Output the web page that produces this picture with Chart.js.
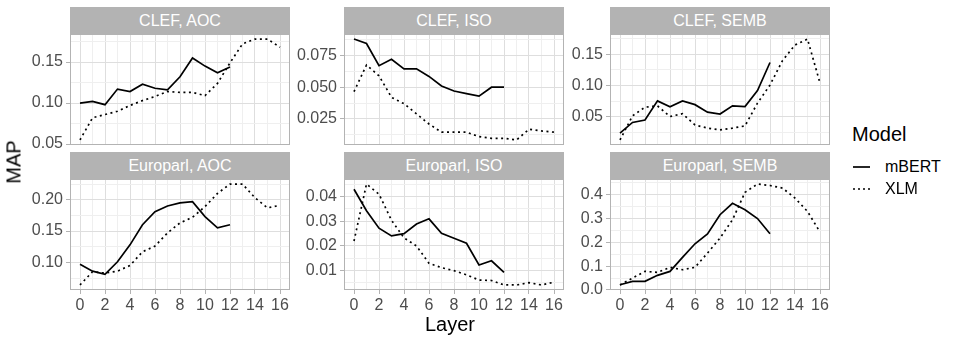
<!DOCTYPE html>
<html>
<head>
<meta charset="utf-8">
<script src="https://cdn.jsdelivr.net/npm/chart.js@4.4.1/dist/chart.umd.min.js"></script>
<style>
body { margin: 0; background: #fff; font-family: "Liberation Sans", Arial, sans-serif; }
#wrap { position: relative; width: 958px; height: 343px; overflow: hidden; }
.strip { position: absolute; background: #B3B3B3; color: #fff; font-size: 16px; text-align: center; }
canvas { position: absolute; }
.txt { position: absolute; white-space: nowrap; color: #000; }
</style>
</head>
<body>
<div id="wrap"></div>
<script>
// layers
const layersBert = [0,1,2,3,4,5,6,7,8,9,10,11,12];
const layersXlm = [0,1,2,3,4,5,6,7,8,9,10,11,12,13,14,15,16];
const xTickLabels = ['0','2','4','6','8','10','12','14','16'];

// CLEF, AOC
const clefAocBert = [0.100,0.102,0.098,0.117,0.114,0.123,0.118,0.116,0.132,0.155,0.145,0.137,0.144];
const clefAocXlm = [0.055,0.082,0.086,0.090,0.097,0.103,0.108,0.114,0.113,0.113,0.109,0.124,0.149,0.172,0.178,0.178,0.168];
const clefAocTicks = ['0.05','0.10','0.15'];
// CLEF, ISO
const clefIsoBert = [0.088,0.0845,0.067,0.072,0.0645,0.0645,0.0585,0.051,0.047,0.045,0.043,0.050,0.050];
const clefIsoXlm = [0.0465,0.0675,0.059,0.042,0.037,0.029,0.021,0.0145,0.0145,0.0145,0.011,0.0097,0.0097,0.0084,0.0168,0.0155,0.0145];
const clefIsoTicks = ['0.025','0.050','0.075'];
// CLEF, SEMB
const clefSembBert = [0.024,0.041,0.045,0.0755,0.066,0.0755,0.0695,0.0575,0.0545,0.0675,0.0665,0.092,0.137];
const clefSembXlm = [0.013,0.0515,0.0655,0.0675,0.0505,0.055,0.037,0.032,0.029,0.032,0.0355,0.072,0.101,0.140,0.165,0.1745,0.104];
const clefSembTicks = ['0.05','0.10','0.15'];
// Europarl, AOC
const euroAocBert = [0.097,0.086,0.081,0.101,0.128,0.160,0.181,0.190,0.195,0.197,0.173,0.155,0.160];
const euroAocXlm = [0.064,0.085,0.083,0.086,0.095,0.117,0.126,0.147,0.163,0.172,0.189,0.210,0.225,0.225,0.203,0.187,0.191];
const euroAocTicks = ['0.10','0.15','0.20'];
// Europarl, ISO
const euroIsoBert = [0.043,0.0343,0.0272,0.0241,0.025,0.0289,0.031,0.0251,0.0231,0.0211,0.0123,0.014,0.0093];
const euroIsoXlm = [0.022,0.0451,0.041,0.0304,0.0233,0.020,0.013,0.0112,0.010,0.0083,0.0062,0.006,0.0042,0.0042,0.0051,0.0042,0.0053];
const euroIsoTicks = ['0.01','0.02','0.03','0.04'];
// Europarl, SEMB
const euroSembBert = [0.022,0.036,0.036,0.0615,0.078,0.137,0.194,0.235,0.316,0.364,0.337,0.300,0.236];
const euroSembXlm = [0.021,0.050,0.078,0.074,0.095,0.085,0.095,0.155,0.218,0.295,0.410,0.445,0.439,0.428,0.386,0.330,0.243];
const euroSembTicks = ['0.0','0.1','0.2','0.3','0.4'];

const panels = [
  {title: 'CLEF, AOC', bert: clefAocBert, xlm: clefAocXlm, ticks: clefAocTicks},
  {title: 'CLEF, ISO', bert: clefIsoBert, xlm: clefIsoXlm, ticks: clefIsoTicks},
  {title: 'CLEF, SEMB', bert: clefSembBert, xlm: clefSembXlm, ticks: clefSembTicks},
  {title: 'Europarl, AOC', bert: euroAocBert, xlm: euroAocXlm, ticks: euroAocTicks},
  {title: 'Europarl, ISO', bert: euroIsoBert, xlm: euroIsoXlm, ticks: euroIsoTicks},
  {title: 'Europarl, SEMB', bert: euroSembBert, xlm: euroSembXlm, ticks: euroSembTicks}
];

const colLeft = [70, 344, 610];
const rowTop = [34, 179];
const panelW = 220, panelH = 111, stripH = 27, yW = 70;
const gridMajor = '#DEDEDE', gridMinor = '#EFEFEF', frame = '#B3B3B3';
const wrap = document.getElementById('wrap');

const panelBorder = {
  id: 'panelBorder',
  afterDraw(chart) {
    const a = chart.chartArea, c = chart.ctx;
    c.save();
    c.strokeStyle = frame;
    c.lineWidth = 1;
    c.strokeRect(a.left + 0.5, a.top + 0.5, a.right - a.left - 1, a.bottom - a.top - 1);
    c.restore();
  }
};

function addText(text, css) {
  const d = document.createElement('div');
  d.className = 'txt';
  d.textContent = text;
  Object.assign(d.style, css);
  wrap.appendChild(d);
  return d;
}

panels.forEach(function(p, i) {
  const col = i % 3, row = Math.floor(i / 3);
  const bottom = row === 1;
  const left = colLeft[col], top = rowTop[row];

  const s = document.createElement('div');
  s.className = 'strip';
  s.textContent = p.title;
  Object.assign(s.style, {left: left + 'px', top: (top - stripH) + 'px', width: panelW + 'px',
    height: stripH + 'px', lineHeight: stripH + 'px'});
  wrap.appendChild(s);

  const cv = document.createElement('canvas');
  const cw = yW + panelW + 3, ch = 2 + panelH + (bottom ? 40 : 3);
  cv.width = cw; cv.height = ch;
  cv.style.left = (left - yW) + 'px';
  cv.style.top = (top - 2) + 'px';
  wrap.appendChild(cv);

  const all = p.bert.concat(p.xlm);
  const lo = Math.min.apply(null, all), hi = Math.max.apply(null, all);
  const pad = (hi - lo) * 0.05;
  const majors = p.ticks.map(parseFloat);
  const step = majors[1] - majors[0];
  let yt = [];
  for (let k = -1; k <= majors.length; k++) {
    const v = majors[0] + k * step;
    const m = v + step / 2;
    if (k >= 0 && k < majors.length) yt.push({value: majors[k], minor: false});
    if (m >= lo - pad && m <= hi + pad) yt.push({value: m, minor: true});
  }
  yt = yt.filter(t => t.value >= lo - pad - 1e-9 && t.value <= hi + pad + 1e-9);

  new Chart(cv, {
    type: 'line',
    data: {
      datasets: [
        {label: 'mBERT', data: layersBert.map((l, j) => ({x: l, y: p.bert[j]})),
          borderColor: '#000', borderWidth: 1.7, pointRadius: 0, tension: 0},
        {label: 'XLM', data: layersXlm.map((l, j) => ({x: l, y: p.xlm[j]})),
          borderColor: '#000', borderWidth: 1.7, borderDash: [2, 3.5], pointRadius: 0, tension: 0}
      ]
    },
    plugins: [panelBorder],
    options: {
      responsive: false,
      animation: false,
      events: [],
      layout: {padding: {top: 2, right: 3, left: 0, bottom: bottom ? 0 : 3}},
      plugins: {legend: {display: false}, tooltip: {enabled: false}},
      scales: {
        x: {
          type: 'linear', min: -0.8, max: 16.8,
          afterBuildTicks: sc => { sc.ticks = layersXlm.map(v => ({value: v, minor: v % 2 !== 0})); },
          afterFit: sc => { sc.height = bottom ? 40 : 0; sc.paddingLeft = 0; sc.paddingRight = 0; },
          border: {display: false},
          grid: {
            color: c => (c.tick && c.tick.minor) ? gridMinor : gridMajor,
            tickColor: c => (c.tick && c.tick.minor) ? 'rgba(0,0,0,0)' : frame,
            drawTicks: bottom, tickLength: 4
          },
          ticks: {
            display: bottom, autoSkip: false, maxRotation: 0, padding: 2,
            color: '#4D4D4D', font: {family: 'Liberation Sans', size: 16},
            callback: v => xTickLabels.includes(String(v)) ? String(v) : ''
          }
        },
        y: {
          type: 'linear', min: lo - pad, max: hi + pad,
          afterBuildTicks: sc => { sc.ticks = yt.map(t => ({value: t.value, minor: t.minor})); },
          afterFit: sc => { sc.width = yW; sc.paddingTop = 0; sc.paddingBottom = 0; },
          border: {display: false},
          grid: {
            color: c => (c.tick && c.tick.minor) ? gridMinor : gridMajor,
            tickColor: c => (c.tick && c.tick.minor) ? 'rgba(0,0,0,0)' : frame,
            drawTicks: true, tickLength: 4
          },
          ticks: {
            autoSkip: false, padding: 3,
            color: '#4D4D4D', font: {family: 'Liberation Sans', size: 16},
            callback: v => {
              const k = majors.findIndex(m => Math.abs(m - v) < 1e-9);
              return k >= 0 ? p.ticks[k] : '';
            }
          }
        }
      }
    }
  });
});

// axis titles
addText('Layer', {left: '450px', top: '324px', fontSize: '20px', transform: 'translate(-50%,-50%)'});
addText('MAP', {left: '14px', top: '162px', fontSize: '20px', transform: 'translate(-50%,-50%) rotate(-90deg)'});

// legend
addText('Model', {left: '852px', top: '134px', fontSize: '20px', transform: 'translateY(-50%)'});
const keys = [{name: 'mBERT', dash: '', y: 167}, {name: 'XLM', dash: '2 3', y: 189}];
keys.forEach(function(k) {
  const svg = document.createElementNS('http://www.w3.org/2000/svg', 'svg');
  svg.setAttribute('width', '20'); svg.setAttribute('height', '6');
  svg.style.position = 'absolute';
  svg.style.left = '852px'; svg.style.top = (k.y - 3) + 'px';
  const ln = document.createElementNS('http://www.w3.org/2000/svg', 'line');
  ln.setAttribute('x1', '1'); ln.setAttribute('x2', '18'); ln.setAttribute('y1', '3'); ln.setAttribute('y2', '3');
  ln.setAttribute('stroke', '#000'); ln.setAttribute('stroke-width', '1.7');
  if (k.dash) ln.setAttribute('stroke-dasharray', k.dash);
  svg.appendChild(ln);
  wrap.appendChild(svg);
  addText(k.name, {left: '885px', top: k.y + 'px', fontSize: '16px', transform: 'translateY(-50%)'});
});
</script>
</body>
</html>
